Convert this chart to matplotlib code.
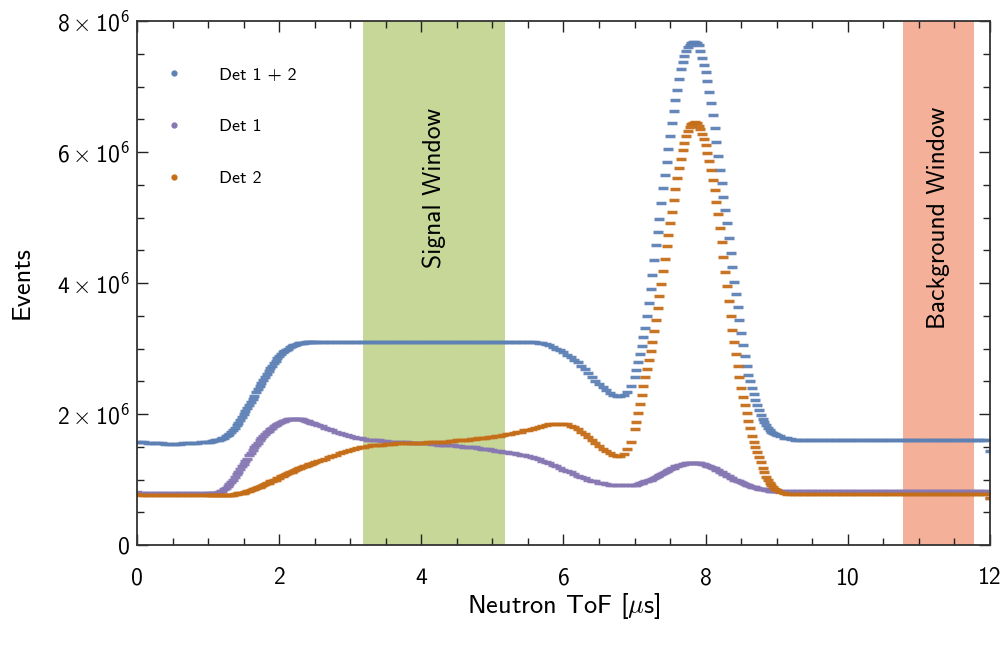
import numpy as np
import matplotlib
matplotlib.use("Agg")
import matplotlib.pyplot as plt
from matplotlib.lines import Line2D
from matplotlib.ticker import MultipleLocator, FuncFormatter

plt.rcParams["font.family"] = "cmss10"
plt.rcParams["mathtext.fontset"] = "custom"
plt.rcParams["mathtext.rm"] = "cmss10"
plt.rcParams["mathtext.sf"] = "cmss10"
plt.rcParams["mathtext.it"] = "cmmi10"

# bin centres in microseconds: finer bins where the curves are steep
tof = np.concatenate([
    np.linspace(0.0, 0.95, 20),
    np.linspace(1.0, 2.475, 60),
    np.linspace(2.5, 6.95, 90),
    np.linspace(7.0, 8.975, 80),
    np.linspace(9.0, 12.0, 61),
])

# events in units of 1e6
det1 = (
    [0.81] + [0.80] * 19
    + [0.80, 0.80, 0.80, 0.80, 0.80, 0.80, 0.81, 0.82, 0.83, 0.85,
       0.87, 0.90, 0.93, 0.96, 1.00, 1.04, 1.08, 1.12, 1.16, 1.20,
       1.24, 1.28, 1.32, 1.37, 1.41, 1.45, 1.49, 1.53, 1.56, 1.60,
       1.63, 1.66, 1.69, 1.72, 1.74, 1.77, 1.79, 1.81, 1.83, 1.85,
       1.86, 1.88, 1.89, 1.90, 1.91, 1.92, 1.92, 1.93, 1.93, 1.93,
       1.93, 1.93, 1.92, 1.92, 1.91, 1.90, 1.89, 1.88, 1.87, 1.86]
    + [1.85, 1.83, 1.81, 1.79, 1.77, 1.75, 1.73, 1.71, 1.69, 1.68,
       1.66, 1.65, 1.64, 1.63, 1.62, 1.61, 1.61, 1.60, 1.60, 1.59,
       1.59, 1.58, 1.58, 1.58, 1.57, 1.57, 1.57, 1.56, 1.56, 1.56,
       1.55, 1.55, 1.55, 1.54, 1.54, 1.53, 1.53, 1.53, 1.52, 1.52,
       1.51, 1.51, 1.50, 1.50, 1.49, 1.49, 1.48, 1.47, 1.47, 1.46,
       1.45, 1.44, 1.43, 1.42, 1.42, 1.41, 1.40, 1.39, 1.38, 1.37,
       1.36, 1.35, 1.33, 1.31, 1.29, 1.27, 1.25, 1.22, 1.20, 1.17,
       1.15, 1.13, 1.11, 1.08, 1.06, 1.04, 1.02, 1.00, 0.98, 0.97,
       0.95, 0.94, 0.93, 0.92, 0.92, 0.91, 0.91, 0.91, 0.91, 0.92]
    + [0.92, 0.92, 0.93, 0.94, 0.95, 0.96, 0.97, 0.98, 0.99, 1.00,
       1.01, 1.03, 1.04, 1.06, 1.07, 1.09, 1.10, 1.12, 1.13, 1.15,
       1.16, 1.17, 1.18, 1.20, 1.21, 1.22, 1.22, 1.23, 1.24, 1.25,
       1.25, 1.25, 1.25, 1.25, 1.25, 1.25, 1.25, 1.25, 1.24, 1.23,
       1.22, 1.21, 1.20, 1.19, 1.18, 1.17, 1.15, 1.14, 1.12, 1.11,
       1.09, 1.08, 1.06, 1.05, 1.03, 1.02, 1.00, 0.99, 0.98, 0.97,
       0.96, 0.95, 0.93, 0.92, 0.91, 0.90, 0.89, 0.89, 0.88, 0.87,
       0.86, 0.86, 0.85, 0.85, 0.84, 0.84, 0.83, 0.83, 0.83, 0.82]
    + [0.82] * 60 + [0.72]
)
det2 = (
    [0.78] + [0.77] * 19
    + [0.77, 0.77, 0.77, 0.77, 0.77, 0.77, 0.77, 0.77, 0.77, 0.77,
       0.77, 0.77, 0.77, 0.77, 0.77, 0.78, 0.78, 0.79, 0.79, 0.80,
       0.80, 0.81, 0.82, 0.83, 0.84, 0.85, 0.86, 0.87, 0.88, 0.89,
       0.90, 0.92, 0.93, 0.94, 0.95, 0.97, 0.98, 0.99, 1.00, 1.02,
       1.03, 1.05, 1.06, 1.07, 1.08, 1.10, 1.11, 1.12, 1.13, 1.15,
       1.16, 1.17, 1.18, 1.19, 1.20, 1.21, 1.22, 1.23, 1.24, 1.25]
    + [1.26, 1.28, 1.30, 1.32, 1.34, 1.36, 1.38, 1.40, 1.42, 1.43,
       1.45, 1.46, 1.48, 1.49, 1.50, 1.51, 1.52, 1.52, 1.53, 1.53,
       1.54, 1.54, 1.54, 1.55, 1.55, 1.55, 1.55, 1.56, 1.56, 1.56,
       1.56, 1.56, 1.57, 1.57, 1.57, 1.58, 1.58, 1.58, 1.59, 1.59,
       1.60, 1.60, 1.61, 1.61, 1.62, 1.62, 1.63, 1.63, 1.64, 1.65,
       1.65, 1.66, 1.67, 1.68, 1.69, 1.70, 1.71, 1.72, 1.73, 1.75,
       1.76, 1.77, 1.79, 1.80, 1.81, 1.83, 1.84, 1.84, 1.85, 1.85,
       1.85, 1.84, 1.82, 1.80, 1.77, 1.73, 1.69, 1.65, 1.60, 1.56,
       1.51, 1.47, 1.43, 1.40, 1.37, 1.36, 1.36, 1.39, 1.46, 1.58]
    + [1.77, 1.88, 2.01, 2.15, 2.29, 2.43, 2.56, 2.69, 2.82, 2.96,
       3.10, 3.27, 3.44, 3.62, 3.80, 3.99, 4.18, 4.37, 4.56, 4.74,
       4.91, 5.09, 5.27, 5.44, 5.60, 5.76, 5.90, 6.03, 6.14, 6.24,
       6.32, 6.38, 6.42, 6.45, 6.46, 6.44, 6.40, 6.35, 6.28, 6.20,
       6.10, 5.99, 5.86, 5.73, 5.58, 5.42, 5.24, 5.05, 4.84, 4.62,
       4.40, 4.17, 3.95, 3.72, 3.50, 3.29, 3.10, 2.91, 2.74, 2.57,
       2.40, 2.26, 2.13, 2.01, 1.90, 1.78, 1.67, 1.58, 1.49, 1.42,
       1.35, 1.26, 1.18, 1.11, 1.04, 0.99, 0.95, 0.92, 0.89, 0.86]
    + [0.84, 0.81, 0.79] + [0.78] * 57 + [0.71]
)
det12 = (
    [1.58, 1.57, 1.57, 1.56, 1.56, 1.55, 1.55, 1.55, 1.54, 1.54,
     1.54, 1.54, 1.54, 1.55, 1.55, 1.55, 1.56, 1.56, 1.57, 1.58]
    + [1.58, 1.58, 1.59, 1.59, 1.60, 1.60, 1.61, 1.62, 1.63, 1.64,
       1.66, 1.68, 1.70, 1.73, 1.76, 1.79, 1.83, 1.87, 1.91, 1.95,
       2.00, 2.04, 2.09, 2.13, 2.18, 2.23, 2.28, 2.33, 2.38, 2.43,
       2.48, 2.52, 2.57, 2.61, 2.66, 2.70, 2.74, 2.78, 2.81, 2.85,
       2.88, 2.91, 2.94, 2.96, 2.98, 3.00, 3.02, 3.04, 3.05, 3.06,
       3.07, 3.08, 3.08, 3.09, 3.09, 3.10, 3.10, 3.10, 3.10, 3.10]
    + [3.10] * 63
    + [3.09, 3.08, 3.07, 3.05, 3.03, 3.00, 2.97,
       2.94, 2.90, 2.87, 2.83, 2.79, 2.74, 2.69, 2.63, 2.57, 2.51,
       2.46, 2.41, 2.36, 2.32, 2.29, 2.27, 2.27, 2.29, 2.33, 2.42]
    + [2.56, 2.67, 2.79, 2.91, 3.04, 3.17, 3.32, 3.50, 3.70, 3.91,
       4.12, 4.35, 4.58, 4.78, 4.98, 5.22, 5.45, 5.65, 5.85, 6.05,
       6.25, 6.44, 6.62, 6.79, 6.95, 7.12, 7.27, 7.38, 7.47, 7.54,
       7.60, 7.64, 7.67, 7.68, 7.68, 7.66, 7.63, 7.54, 7.43, 7.33,
       7.22, 7.08, 6.92, 6.75, 6.56, 6.36, 6.15, 5.94, 5.72, 5.52,
       5.32, 5.12, 4.92, 4.69, 4.46, 4.24, 4.02, 3.83, 3.64, 3.44,
       3.24, 3.06, 2.88, 2.73, 2.60, 2.50, 2.40, 2.31, 2.22, 2.14,
       2.06, 1.99, 1.93, 1.88, 1.83, 1.79, 1.76, 1.73, 1.71, 1.69]
    + [1.68, 1.66, 1.64, 1.63, 1.62, 1.61] + [1.60] * 54 + [1.43]
)

signal_window = (3.18, 5.18)
background_window = (10.78, 11.78)

series = [
    ("Det 1 + 2", det12, "#5E81B5"),
    ("Det 1", det1, "#8778B3"),
    ("Det 2", det2, "#C56E1A"),
]

fig = plt.figure(figsize=(10.03, 6.48), dpi=100)
ax = fig.add_axes([137 / 1003, 103 / 648, 853 / 1003, 524 / 648])

ax.axvspan(*signal_window, color="#8FB032", alpha=0.5, lw=0, zorder=0)
ax.axvspan(*background_window, color="#EB6235", alpha=0.5, lw=0, zorder=0)
ax.text(sum(signal_window) / 2, 5.45e6, "Signal Window", rotation=90,
        ha="center", va="center", fontsize=18.4)
ax.text(sum(background_window) / 2, 5.0e6, "Background Window", rotation=90,
        ha="center", va="center", fontsize=18.4)

handles = []
for label, vals, color in series:
    ax.plot(tof, np.array(vals) * 1e6, ls="none", marker="_", ms=7.5, mew=2.5,
            color=color, alpha=0.95, zorder=2)
    handles.append(Line2D([], [], ls="none", marker="o", ms=3.5, color=color))

ax.legend(handles, [s[0] for s in series], loc="upper left",
          bbox_to_anchor=(0.0325, 0.912), frameon=False, fontsize=13,
          handlelength=1, handletextpad=2.0, labelspacing=1.99,
          borderaxespad=0, borderpad=0)

ax.set_xlim(0, 12)
ax.set_ylim(0, 8e6)
ax.xaxis.set_major_locator(MultipleLocator(2))
ax.xaxis.set_minor_locator(MultipleLocator(0.5))
ax.yaxis.set_major_locator(MultipleLocator(2e6))
ax.yaxis.set_minor_locator(MultipleLocator(0.5e6))
ax.yaxis.set_major_formatter(FuncFormatter(
    lambda v, p: "0" if v == 0 else r"$%d\times10^{6}$" % round(v / 1e6)))

ax.tick_params(which="both", direction="in", top=True, right=True,
               color="#222222", width=1)
ax.tick_params(which="major", length=8, labelsize=17)
ax.tick_params(which="minor", length=5)
ax.tick_params(axis="x", which="major", pad=16)
ax.tick_params(axis="y", which="major", pad=5)
for sp in ax.spines.values():
    sp.set_color("#333333")
    sp.set_linewidth(1.3)

ax.set_xlabel(r"Neutron ToF [$\mu$s]", fontsize=19)
ax.set_ylabel("Events", fontsize=19)
ax.xaxis.set_label_coords(0.5, -0.088)
ax.yaxis.set_label_coords(-0.121, 0.5)

fig.savefig("out.png", dpi=100)
